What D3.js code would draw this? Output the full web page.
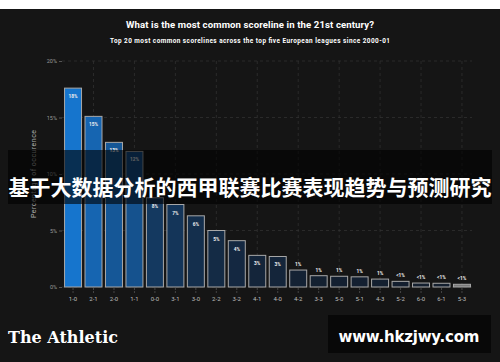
<html><head><title>Most common scorelines</title>
<style>
  body { margin: 0; background: #151515; overflow: hidden; }
  svg { display: block; }
</style>
</head>
<body>
<svg id="chart" width="500" height="362"></svg>
<script src="https://cdnjs.cloudflare.com/ajax/libs/d3/7.8.5/d3.min.js"></script>
<script>
  const scorelines = ["1-0","2-1","2-0","1-1","0-0","3-1","3-0","2-2","3-2","4-1","4-0","4-2","3-3","5-0","5-1","4-3","5-2","6-0","6-1","5-3"];
  const shares = [17.6, 15.1, 12.8, 12.0, 7.9, 7.3, 6.3, 5.0, 4.1, 2.8, 2.7, 1.5, 1.0, 0.95, 0.9, 0.7, 0.5, 0.35, 0.33, 0.24];
  const shareLabels = ["18%","15%","13%","12%","8%","7%","6%","5%","4%","3%","3%","1%","1%","1%","1%","1%","<1%","<1%","<1%","<1%"];
  const yTicks = [0, 5, 10, 15, 20];

  const svg = d3.select("#chart");
  const font = "Roboto, 'DejaVu Sans', sans-serif";

  // white strip on top
  svg.append("rect").attr("width", 500).attr("height", 9).attr("fill", "#fff");

  svg.append("text").attr("x", 250).attr("y", 28).attr("text-anchor", "middle")
    .attr("fill", "#fff").attr("font-family", font).attr("font-weight", "bold")
    .attr("font-size", 9.6).attr("textLength", 248)
    .text("What is the most common scoreline in the 21st century?");
  svg.append("text").attr("x", 250).attr("y", 43).attr("text-anchor", "middle")
    .attr("fill", "#fff").attr("font-family", font).attr("font-weight", "bold")
    .attr("font-size", 6.4).attr("textLength", 280)
    .text("Top 20 most common scorelines across the top five European leagues since 2000-01");

  const x = d3.scaleBand().domain(scorelines).range([62.8, 472.2])
    .paddingInner(0.17).paddingOuter(0.085);
  const y = d3.scaleLinear().domain([0, 20]).range([287, 61]);
  const color = d3.scaleLinear().domain([0, 6, 18])
    .range(["#141e2c", "#142d4a", "#1677d2"]).clamp(true);

  // grid
  const grid = svg.append("g").attr("stroke", "#333").attr("stroke-dasharray", "3,3").attr("stroke-width", 0.7);
  grid.selectAll("line.h").data(yTicks).join("line")
    .attr("x1", 62).attr("x2", 472).attr("y1", d => y(d)).attr("y2", d => y(d));
  grid.selectAll("line.v").data(scorelines.filter((d, i) => i % 2 === 1)).join("line")
    .attr("x1", d => x(d) + x.bandwidth() / 2).attr("x2", d => x(d) + x.bandwidth() / 2)
    .attr("y1", 61).attr("y2", 287);

  // y axis
  const yAxis = svg.append("g").attr("transform", "translate(62,0)")
    .call(d3.axisLeft(y).tickValues(yTicks).tickFormat(d => d + "%").tickSize(3).tickPadding(2));
  yAxis.select(".domain").remove();
  yAxis.selectAll("line").attr("stroke", "#555");
  yAxis.selectAll("text").attr("fill", "#999").attr("font-family", font).attr("font-size", 5.5);

  svg.append("text").attr("transform", "translate(36,174) rotate(-90)").attr("text-anchor", "middle")
    .attr("fill", "#aaa").attr("font-family", font).attr("font-size", 7).attr("textLength", 88)
    .text("Percentage of occurence");

  // x axis
  const xAxis = svg.append("g").attr("transform", "translate(0,288)")
    .call(d3.axisBottom(x).tickSize(5).tickPadding(4));
  xAxis.select(".domain").remove();
  xAxis.selectAll("line").attr("stroke", "#444").attr("stroke-dasharray", "2,1");
  xAxis.selectAll("text").attr("fill", "#bbb").attr("font-family", font).attr("font-size", 6);

  // bars
  svg.append("g").selectAll("rect").data(scorelines).join("rect")
    .attr("x", d => x(d)).attr("width", x.bandwidth())
    .attr("y", (d, i) => y(shares[i])).attr("height", (d, i) => y(0) - y(shares[i]))
    .attr("fill", (d, i) => i === scorelines.length - 1 ? "#7a7a7a" : color(shares[i]))
    .attr("stroke", "#a8a8a8").attr("stroke-width", 1);

  svg.append("g").selectAll("text").data(scorelines).join("text")
    .attr("x", d => x(d) + x.bandwidth() / 2)
    .attr("y", (d, i) => shares[i] >= 2 ? y(shares[i]) + 10 : y(shares[i]) - 4)
    .attr("text-anchor", "middle").attr("fill", "#eee").attr("font-family", font)
    .attr("font-weight", "bold").attr("font-size", 4.8)
    .text((d, i) => shareLabels[i]);

  // footer
  svg.append("text").attr("x", 8).attr("y", 343).attr("fill", "#fff")
    .attr("font-family", "'DejaVu Serif', serif").attr("font-weight", "bold")
    .attr("font-size", 16).attr("textLength", 110).text("The Athletic");

  svg.append("rect").attr("x", 328).attr("y", 315).attr("width", 163).attr("height", 38).attr("fill", "#080808");
  svg.append("text").attr("x", 409).attr("y", 342).attr("text-anchor", "middle").attr("fill", "#fff")
    .attr("font-family", "'DejaVu Sans', sans-serif").attr("font-weight", "bold")
    .attr("font-size", 15).attr("textLength", 141).text("www.hkzjwy.com");

  // banner
  svg.append("rect").attr("x", 8).attr("y", 150).attr("width", 484).attr("height", 54).attr("fill", "rgba(0,0,0,0.6)");
  svg.append("text").attr("x", 250).attr("y", 195).attr("text-anchor", "middle").attr("fill", "#fff")
    .attr("font-family", "'Noto Sans CJK SC', sans-serif").attr("font-weight", "bold")
    .attr("font-size", 21).attr("textLength", 483)
    .text("基于大数据分析的西甲联赛比赛表现趋势与预测研究");
</script>
</body></html>
